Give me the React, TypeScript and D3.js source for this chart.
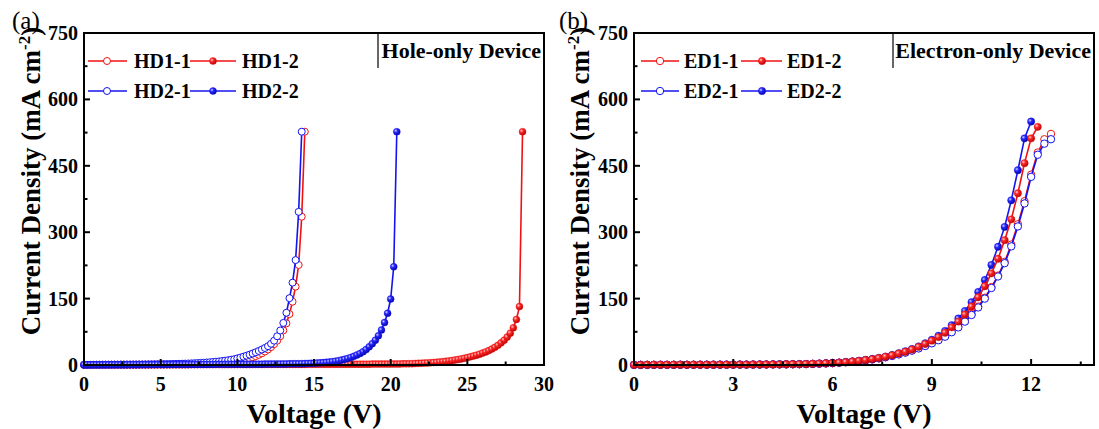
import React from "react";
import * as d3 from "d3";

// Voltage sweep step (V) – every series starts at 0 V
const V_STEP = 0.2;

// ---------- (a) Hole-only devices: current density (mA cm^-2) ----------
const HD1_1 = [
  0.3, 0.3, 0.3, 0.4, 0.4, 0.4, 0.5, 0.5, 0.5, 0.6, 0.6, 0.6, 0.7, 0.7, 0.7, 0.8, 0.8, 0.8, 0.9, 0.9,
  0.9, 1.0, 1.0, 1.1, 1.1, 1.2, 1.2, 1.3, 1.3, 1.4, 1.4, 1.5, 1.5, 1.6, 1.7,
  1.8, 1.9, 2.1, 2.3, 2.5, 2.7, 3.0, 3.3, 3.7, 4.1, 4.6, 5.2, 5.9, 6.7, 7.6,
  8.7, 10, 11.5, 13.2, 15.2, 17.5, 20, 23, 26.5, 30.5, 35, 40.5, 47, 55, 65, 78, 94, 115, 143, 177, 226, 335, 527,
];
const HD1_2 = [
  0.3, 0.3, 0.3, 0.3, 0.3, 0.4, 0.4, 0.4, 0.4, 0.4,
  0.4, 0.5, 0.5, 0.5, 0.5, 0.5, 0.5, 0.6, 0.6, 0.6,
  0.6, 0.6, 0.6, 0.7, 0.7, 0.7, 0.7, 0.7, 0.7, 0.8,
  0.8, 0.8, 0.8, 0.8, 0.8, 0.9, 0.9, 0.9, 0.9, 0.9,
  0.9, 1.0, 1.0, 1.0, 1.0, 1.0, 1.0, 1.0, 1.1, 1.1,
  1.1, 1.1, 1.1, 1.1, 1.1, 1.2, 1.2, 1.2, 1.2, 1.2,
  1.2, 1.2, 1.3, 1.3, 1.3, 1.3, 1.3, 1.3, 1.4, 1.4,
  1.4, 1.4, 1.4, 1.5, 1.5, 1.5, 1.5, 1.5, 1.6, 1.6,
  1.6, 1.6, 1.7, 1.7, 1.7, 1.7, 1.8, 1.8, 1.8, 1.8,
  1.9, 1.9, 1.9, 1.9, 2.0, 2.0, 2.0, 2.0, 2.1, 2.1,
  2.2, 2.3, 2.4, 2.5, 2.6, 2.7, 2.9, 3.1, 3.4, 3.7, 4.0, 4.4, 4.8, 5.2, 5.7, 6.2, 6.8, 7.5, 8.3, 9.2,
  10.2, 11.3, 12.5, 13.8, 15.2,
  16.7, 18.4, 20.2, 22.3, 24.5, 27, 29.5, 32.5, 36, 40, 44.5, 50, 56, 63, 72, 84, 103, 132, 527,
];
const HD2_1 = [
  0.3, 0.3, 0.4, 0.4, 0.5, 0.5, 0.6, 0.6, 0.7, 0.7, 0.8, 0.8, 0.9, 0.9, 1.0, 1.0, 1.1, 1.1, 1.2, 1.2,
  1.3, 1.4, 1.5, 1.6, 1.7, 1.8, 1.9, 2.0, 2.1, 2.3, 2.5, 2.7, 2.9, 3.1, 3.4,
  3.7, 4.0, 4.4, 4.8, 5.2, 5.7, 6.2, 6.8, 7.4, 8.1, 8.9, 9.8, 10.8, 11.9, 13.1,
  15, 16.8, 18.8, 21, 23.4, 26, 28.8, 31.8, 35, 38.5, 42.5, 48, 55, 65, 78, 95, 118, 151, 186, 237, 346, 527,
];
const HD2_2 = [
  0.4, 0.4, 0.4, 0.5, 0.5, 0.5, 0.5, 0.6, 0.6, 0.6,
  0.6, 0.7, 0.7, 0.7, 0.7, 0.8, 0.8, 0.8, 0.8, 0.9,
  0.9, 0.9, 0.9, 1.0, 1.0, 1.0, 1.0, 1.1, 1.1, 1.1,
  1.1, 1.2, 1.2, 1.2, 1.2, 1.3, 1.3, 1.3, 1.3, 1.4,
  1.4, 1.4, 1.4, 1.5, 1.5, 1.5, 1.5, 1.6, 1.6, 1.6,
  1.6, 1.7, 1.7, 1.7, 1.8, 1.8, 1.8, 1.9, 1.9, 2.0, 2.0, 2.1, 2.1, 2.2, 2.3, 2.4, 2.5, 2.6, 2.7, 2.8,
  2.9, 3.1, 3.3, 3.5, 3.8, 4.1, 4.5, 4.9, 5.4, 6.0, 6.7, 7.6, 8.6, 9.8, 11.2, 12.9, 14.8, 17, 19.5,
  22.5, 26, 30, 35, 41, 48, 56, 66, 79, 96, 117, 149, 222, 527,
];

// ---------- (b) Electron-only devices ----------
const ED1_1 = [
  0.3, 0.3, 0.4, 0.4, 0.5, 0.5, 0.5, 0.6, 0.6, 0.6, 0.7, 0.7, 0.7, 0.8, 0.8, 0.8, 0.9, 0.9, 1.0, 1.1,
  1.2, 1.3, 1.4, 1.5, 1.7, 1.8, 2.1, 2.5, 3.0, 3.6, 4.3, 5.2, 6.3, 7.6, 9.1, 10.9, 12.9, 15.2, 17.8, 20.8,
  24.5, 28.5, 33, 38, 43.5, 50, 57, 65, 75, 86.5, 99.5, 115, 132, 152, 176, 202, 233, 272, 318, 370, 430,
  480, 510, 522,
];
const ED1_2 = [
  0.3, 0.3, 0.4, 0.4, 0.5, 0.5, 0.5, 0.6, 0.6, 0.6, 0.7, 0.7, 0.7, 0.8, 0.8, 0.8, 0.9, 0.9, 1.0, 1.1,
  1.2, 1.3, 1.4, 1.6, 1.8, 2.0, 2.3, 2.7, 3.2, 3.8, 4.5, 5.4, 6.5, 7.8, 9.3, 11.2, 13.3, 15.8, 18.7, 22,
  26, 30, 35, 41, 47.5, 55, 63, 73, 85, 98, 114, 132, 153, 178, 207, 240, 282, 329, 388, 456, 512, 538,
];
const ED2_1 = [
  0.3, 0.3, 0.4, 0.4, 0.5, 0.5, 0.5, 0.6, 0.6, 0.6, 0.7, 0.7, 0.7, 0.8, 0.8, 0.8, 0.9, 0.9, 1.0, 1.1,
  1.2, 1.3, 1.4, 1.5, 1.7, 1.8, 2.1, 2.5, 3.0, 3.6, 4.3, 5.2, 6.3, 7.5, 9, 10.7, 12.7, 15, 17.5, 20.5,
  24, 28, 32.5, 37.5, 43, 49, 56, 64, 74, 85, 98, 113, 130, 150, 174, 200, 230, 268, 313, 365, 425,
  475, 500, 510,
];
const ED2_2 = [
  0.3, 0.3, 0.4, 0.4, 0.5, 0.5, 0.5, 0.6, 0.6, 0.6, 0.7, 0.7, 0.7, 0.8, 0.8, 0.8, 0.9, 0.9, 1.0, 1.1,
  1.2, 1.3, 1.4, 1.6, 1.8, 2.0, 2.3, 2.7, 3.2, 3.8, 4.5, 5.4, 6.5, 7.8, 9.4, 11.3, 13.5, 16, 19, 22.5,
  26.5, 31, 36, 42, 49, 57, 66, 77, 90, 105, 122, 142, 165, 192, 226, 267, 312, 372, 440, 512, 550,
];

const Y_TICKS = [0, 150, 300, 450, 600, 750];
const Y_MINOR = [75, 225, 375, 525, 675];
const X_TICKS_A = [0, 5, 10, 15, 20, 25, 30];
const X_MINOR_A = [2.5, 7.5, 12.5, 17.5, 22.5, 27.5];
const X_TICKS_B = [0, 3, 6, 9, 12];
const X_MINOR_B = [1.5, 4.5, 7.5, 10.5, 13.5];

const NAMES_A = ["HD1-1", "HD1-2", "HD2-1", "HD2-2"];
const NAMES_B = ["ED1-1", "ED1-2", "ED2-1", "ED2-2"];

const RED = "#f01212";
const BLUE = "#1414f0";
const FONT = "'Liberation Serif', 'Times New Roman', serif";

type Series = { name: string; values: number[]; color: string; filled: boolean };

function Marker({ cx, cy, r, color, filled }: { cx: number; cy: number; r: number; color: string; filled: boolean }) {
  if (filled) {
    return <circle cx={cx} cy={cy} r={r} fill={color === RED ? "url(#ballRed)" : "url(#ballBlue)"} stroke={color} strokeWidth={0.4} />;
  }
  return <circle cx={cx} cy={cy} r={r} fill="#ffffff" stroke={color} strokeWidth={1} />;
}

type PanelProps = {
  x0: number;
  x1: number;
  xMax: number;
  xTicks: number[];
  xMinor: number[];
  series: Series[]; // legend order
  drawOrder: number[];
  legendCols: { l0: number; l1: number; m: number; t: number }[];
  deviceLabel: string;
  deviceLineX: number;
  tag: string;
  tagX: number;
  titleX: number;
  r: number;
};

function Panel(p: PanelProps) {
  const yTop = 33;
  const yBot = 365;
  const x = d3.scaleLinear().domain([0, p.xMax]).range([p.x0, p.x1]);
  const y = d3.scaleLinear().domain([0, 750]).range([yBot, yTop]);
  const line = d3
    .line<number>()
    .x((_, i) => x(i * V_STEP))
    .y((d) => y(d));

  const rows = [61, 91];

  return (
    <g>
      {/* data */}
      {p.drawOrder.map((si) => {
        const s = p.series[si];
        return (
          <g key={s.name}>
            <path d={line(s.values) || ""} fill="none" stroke={s.color} strokeWidth={1.6} />
            {s.values.map((v, i) => (
              <Marker key={i} cx={x(i * V_STEP)} cy={y(v)} r={p.r} color={s.color} filled={s.filled} />
            ))}
          </g>
        );
      })}

      {/* frame */}
      <rect x={p.x0} y={yTop} width={p.x1 - p.x0} height={yBot - yTop} fill="none" stroke="#000" strokeWidth={2} />

      {/* x ticks */}
      {p.xTicks.map((t) => (
        <g key={"xt" + t}>
          <line x1={x(t)} x2={x(t)} y1={yBot} y2={yBot - 6} stroke="#000" strokeWidth={2} />
          <text x={x(t)} y={391} textAnchor="middle" fontFamily={FONT} fontWeight="bold" fontSize={20}>
            {t}
          </text>
        </g>
      ))}
      {p.xMinor.map((t) => (
        <line key={"xm" + t} x1={x(t)} x2={x(t)} y1={yBot} y2={yBot - 3.5} stroke="#000" strokeWidth={2} />
      ))}

      {/* y ticks */}
      {Y_TICKS.map((t) => (
        <g key={"yt" + t}>
          <line x1={p.x0} x2={p.x0 + 6} y1={y(t)} y2={y(t)} stroke="#000" strokeWidth={2} />
          <text x={p.x0 - 6} y={y(t)} dy="0.35em" textAnchor="end" fontFamily={FONT} fontWeight="bold" fontSize={20}>
            {t}
          </text>
        </g>
      ))}
      {Y_MINOR.map((t) => (
        <line key={"ym" + t} x1={p.x0} x2={p.x0 + 3.5} y1={y(t)} y2={y(t)} stroke="#000" strokeWidth={2} />
      ))}

      {/* axis titles */}
      <text
        x={(p.x0 + p.x1) / 2}
        y={423}
        textAnchor="middle"
        fontFamily={FONT}
        fontWeight="bold"
        fontSize={28}
      >
        Voltage (V)
      </text>
      <text
        transform={`translate(${p.titleX},181) rotate(-90)`}
        textAnchor="middle"
        fontFamily={FONT}
        fontWeight="bold"
        fontSize={27}
      >
        Current Density (mA cm
        <tspan fontSize={17} dy={-10}>
          -2
        </tspan>
        <tspan dy={10}>)</tspan>
      </text>

      {/* panel tag */}
      <text x={p.tagX} y={29} fontFamily={FONT} fontSize={25}>
        {p.tag}
      </text>

      {/* device label */}
      <line x1={p.deviceLineX} x2={p.deviceLineX} y1={yTop} y2={68} stroke="#000" strokeWidth={1.2} />
      <text x={p.x1 - 3} y={58} textAnchor="end" fontFamily={FONT} fontWeight="bold" fontSize={22}>
        {p.deviceLabel}
      </text>

      {/* legend */}
      {p.series.map((s, i) => {
        const col = p.legendCols[i % 2];
        const ry = rows[Math.floor(i / 2)];
        return (
          <g key={"lg" + s.name}>
            <line x1={col.l0} x2={col.l1} y1={ry} y2={ry} stroke={s.color} strokeWidth={1.6} />
            <Marker cx={col.m} cy={ry} r={p.r} color={s.color} filled={s.filled} />
            <text x={col.t} y={ry} dy="0.35em" fontFamily={FONT} fontWeight="bold" fontSize={20}>
              {s.name}
            </text>
          </g>
        );
      })}
    </g>
  );
}

export default function App() {
  const seriesA: Series[] = [
    { name: NAMES_A[0], values: HD1_1, color: RED, filled: false },
    { name: NAMES_A[1], values: HD1_2, color: RED, filled: true },
    { name: NAMES_A[2], values: HD2_1, color: BLUE, filled: false },
    { name: NAMES_A[3], values: HD2_2, color: BLUE, filled: true },
  ];
  const seriesB: Series[] = [
    { name: NAMES_B[0], values: ED1_1, color: RED, filled: false },
    { name: NAMES_B[1], values: ED1_2, color: RED, filled: true },
    { name: NAMES_B[2], values: ED2_1, color: BLUE, filled: false },
    { name: NAMES_B[3], values: ED2_2, color: BLUE, filled: true },
  ];

  return (
    <svg
      width={1099}
      height={429}
      viewBox="0 0 1099 429"
      style={{ position: "absolute", left: 0, top: 0, background: "#fff" }}
    >
      <defs>
        <radialGradient id="ballRed" cx="0.35" cy="0.35" r="0.7">
          <stop offset="0" stopColor="#ffd6d6" />
          <stop offset="0.35" stopColor="#ff2a2a" />
          <stop offset="1" stopColor="#b00000" />
        </radialGradient>
        <radialGradient id="ballBlue" cx="0.35" cy="0.35" r="0.7">
          <stop offset="0" stopColor="#d6d6ff" />
          <stop offset="0.35" stopColor="#2a2aff" />
          <stop offset="1" stopColor="#0000a0" />
        </radialGradient>
      </defs>
      <rect x={0} y={0} width={1099} height={429} fill="#fff" />
      <Panel
        x0={84}
        x1={544}
        xMax={30}
        xTicks={X_TICKS_A}
        xMinor={X_MINOR_A}
        series={seriesA}
        drawOrder={[0, 1, 2, 3]}
        legendCols={[
          { l0: 88, l1: 127, m: 107, t: 134 },
          { l0: 190, l1: 236, m: 213, t: 242 },
        ]}
        deviceLabel="Hole-only Device"
        deviceLineX={378}
        tag="(a)"
        tagX={12}
        titleX={40}
        r={3.5}
      />
      <Panel
        x0={634}
        x1={1094}
        xMax={13.9}
        xTicks={X_TICKS_B}
        xMinor={X_MINOR_B}
        series={seriesB}
        drawOrder={[0, 2, 3, 1]}
        legendCols={[
          { l0: 641, l1: 679, m: 660, t: 684 },
          { l0: 741, l1: 782, m: 762, t: 787 },
        ]}
        deviceLabel="Electron-only Device"
        deviceLineX={893}
        tag="(b)"
        tagX={559}
        titleX={589}
        r={3.7}
      />
    </svg>
  );
}
